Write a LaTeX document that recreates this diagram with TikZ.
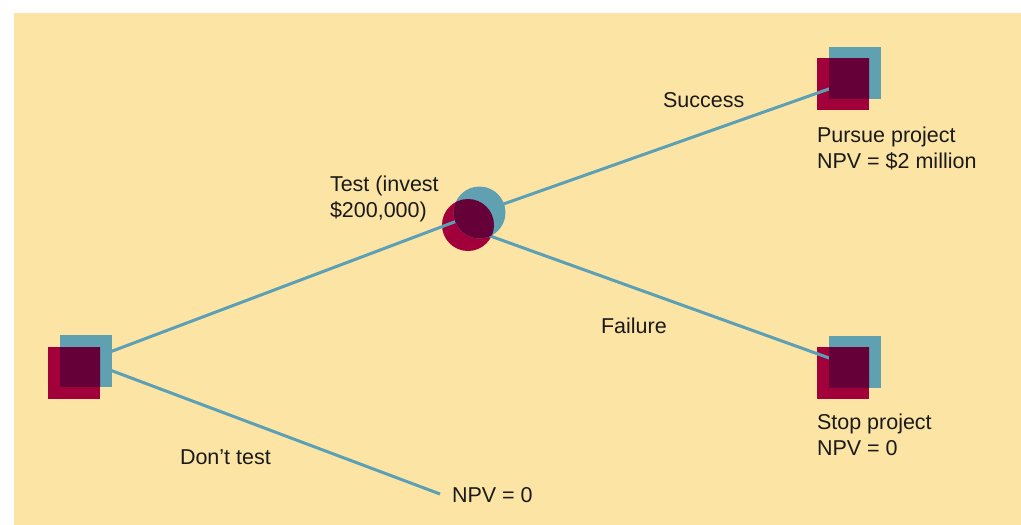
\documentclass[tikz,border=0pt]{standalone}
\usepackage{fontspec}
\setmainfont{Liberation Sans}
\definecolor{bgyellow}{HTML}{FCE4A4}
\definecolor{dkred}{HTML}{A1003B}
\definecolor{tealblue}{HTML}{5FA0B1}
\definecolor{plum}{HTML}{660038}
\definecolor{linecol}{HTML}{5CA0B6}
\definecolor{txt}{HTML}{1A1A1A}
\tikzset{
  redsq/.style={rectangle,fill=dkred,minimum size=52pt,inner sep=0,outer sep=0},
  bluesq/.style={rectangle,fill=tealblue,minimum size=52pt,inner sep=0,outer sep=0},
  redci/.style={circle,fill=dkred,minimum size=52pt,inner sep=0,outer sep=0},
  blueci/.style={circle,fill=tealblue,minimum size=52pt,inner sep=0,outer sep=0},
  branch/.style={draw=linecol,line width=3pt},
  lbl/.style={anchor=base west,inner sep=0,outer sep=0,text=txt,font=\fontsize{21.5}{26}\selectfont,align=left},
}
\begin{document}
\begin{tikzpicture}[x=1pt,y=-1pt]
\useasboundingbox (0,0) rectangle (1021,525);
\fill[bgyellow] (14,13) rectangle (1021,525);
% red layers
\node[redsq] (Lr) at (74,373) {};
\node[redci] (Cr) at (468,225) {};
\node[redsq] (TRr) at (843,84) {};
\node[redsq] (BRr) at (843,373) {};
% named coordinates for branch ends
\coordinate (Lb0) at (86,361);
\coordinate (Cb0) at (479.5,212.5);
\coordinate (Cl0) at (468,228);
\coordinate (BRe) at (843,363);
\coordinate (NE) at (440,494);
% branches
\draw[branch] (Lb0) -- (Cb0);
\draw[branch] (Lb0) -- (NE);
\draw[branch] (Cb0) -- (TRr.center);
\draw[branch] (Cl0) -- (BRe);
% blue layers
\node[bluesq] (Lb) at (86,361) {};
\node[blueci] (Cb) at (479.5,212.5) {};
\node[bluesq] (TRb) at (855,73) {};
\node[bluesq] (BRb) at (855,362) {};
% overlaps
\begin{scope}
\clip (48,347) rectangle (100,399);
\fill[plum] (60,335) rectangle (112,387);
\end{scope}
\begin{scope}
\clip (468,225) circle (26);
\fill[plum] (479.5,212.5) circle (26);
\end{scope}
\begin{scope}
\clip (817,58) rectangle (869,110);
\fill[plum] (829,47) rectangle (881,99);
\end{scope}
\begin{scope}
\clip (817,347) rectangle (869,399);
\fill[plum] (829,336) rectangle (881,388);
\end{scope}
% labels
\node[lbl] (tSuccess) at (663,107) {Success};
\node[lbl] (tPursue) at (817,168) {Pursue project\\NPV = \$2 million};
\node[lbl] (tTest) at (330,217) {Test (invest\\\$200,000)};
\node[lbl] (tFail) at (601,333) {Failure};
\node[lbl] (tStop) at (817,455) {Stop project\\NPV = 0};
\node[lbl] (tDont) at (180,464) {Don’t test};
\node[lbl] (tNPV) at (452,502) {NPV = 0};
\end{tikzpicture}
\end{document}
